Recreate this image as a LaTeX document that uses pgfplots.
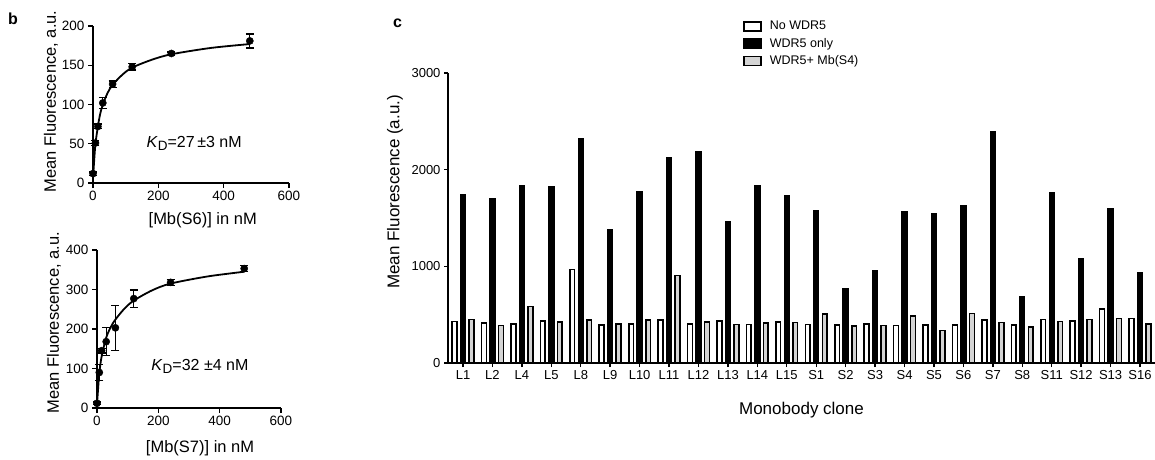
\documentclass[border=0pt]{standalone}
\usepackage{pgfplots}
\pgfplotsset{compat=1.18}
\usepackage{pgfplotstable}
\usepackage{fontspec}
\setmainfont{Liberation Sans}

% panel c: mean fluorescence per monobody clone
\pgfplotstableread{
idx clone nowdr wdr wdrmb
0  L1  429 1741 450
1  L2  415 1699 388
2  L4  401 1834 585
3  L5  432 1820 422
4  L8  969 2318 443
5  L9  394 1381 403
6  L10 401 1768 446
7  L11 446 2125 906
8  L12 405 2190 426
9  L13 436 1461 398
10 L14 398 1834 412
11 L15 422 1734 419
12 S1  398 1578 509
13 S2  394 765  381
14 S3  405 955  388
15 S4  388 1568 484
16 S5  391 1540 336
17 S6  391 1630 512
18 S7  443 2388 419
19 S8  394 680  374
20 S11 450 1765 429
21 S12 432 1080 450
22 S13 557 1592 460
23 S16 460 937  405
}\clones

\pgfplotsset{
  prism/.style={
    scale only axis, clip=false,
    axis lines=left,
    axis line style={-, line width=1.6pt},
    x axis line style={-}, y axis line style={-},
    tick align=outside, major tick length=5pt,
    major tick style={black, line width=1.4pt},
    minor tick num=0,
    tick label style={font=\fontsize{13.5}{15}\selectfont},
    label style={font=\fontsize{16.5}{19}\selectfont},
    /pgf/number format/assume math mode=true,
    /pgf/number format/1000 sep={},
  },
  fit/.style={black, line width=1.8pt, smooth, no marks},
  pts/.style={only marks, mark=*, mark size=3.6pt, black,
    error bars/.cd, y dir=both, y explicit,
    error bar style={line width=1.3pt, black},
    error mark options={rotate=90, mark size=4pt, line width=1.3pt, black}},
  boxlegend/.style={legend image code/.code={%
    \draw[##1] (0pt,-4.5pt) rectangle (17pt,4.5pt);
    \path[draw=none, fill=none] (17pt,0pt) -- (24pt,0pt);}},
  clonebar/.style={ybar, bar width=4.8pt, draw=black, line width=1.6pt, boxlegend},
}
\newcommand{\KD}{\textit{K}\raisebox{-0.35ex}{\fontsize{13.5}{15}\selectfont D}}

\begin{document}
\begin{tikzpicture}
\useasboundingbox (0,0) rectangle (1155pt,459pt);

\node[anchor=base, font=\bfseries\fontsize{16}{18}\selectfont] at (13pt,434pt) {b};
\node[anchor=base, font=\bfseries\fontsize{16}{18}\selectfont] at (397.5pt,431pt) {c};

% b, top: Mb(S6)
\begin{axis}[prism,
  at={(93pt,276pt)}, anchor=south west,
  width=196pt, height=157pt,
  xmin=0, xmax=600, ymin=0, ymax=200,
  xtick={0,200,400,600}, ytick={0,50,100,150,200},
  xlabel={[Mb(S6)] in nM},
  ylabel={Mean Fluorescence, a.u.},
  xlabel style={at={(axis description cs:0.56,-0.236)}, anchor=center},
  ylabel style={at={(axis description cs:-0.214,0.52)}, anchor=center},
]
\addplot[fit] coordinates {
  (0,5) (3,25) (7.5,50) (15,72) (22,88) (30,100) (45,115) (60,125)
  (90,138) (120,147) (180,157) (240,164) (360,172) (480,177)};
\addplot[pts] coordinates {
  (0,12) +- (0,2)
  (7.5,51) +- (0,3)
  (15,72) +- (0,3)
  (30,102) +- (0,7)
  (60,126) +- (0,4)
  (120,148) +- (0,4)
  (240,165) +- (0,2)
  (480,181) +- (0,9)};
\node[anchor=base west, font=\fontsize{16}{18}\selectfont]
  at (axis cs:153,44.6) {\KD=27\,±3 nM};
\end{axis}

% b, bottom: Mb(S7)
\begin{axis}[prism,
  at={(97pt,51pt)}, anchor=south west,
  width=184pt, height=158pt,
  xmin=0, xmax=600, ymin=0, ymax=400,
  xtick={0,200,400,600}, ytick={0,100,200,300,400},
  xlabel={[Mb(S7)] in nM},
  ylabel={Mean Fluorescence, a.u.},
  xlabel style={at={(axis description cs:0.56,-0.253)}, anchor=center},
  ylabel style={at={(axis description cs:-0.234,0.54)}, anchor=center},
]
\addplot[fit] coordinates {
  (0,10) (3,42) (7.5,88) (15,130) (30,178) (45,205) (60,224)
  (90,252) (120,272) (180,298) (240,315) (360,333) (480,345)};
\addplot[pts] coordinates {
  (0,12) +- (0,3)
  (7.5,90) +- (0,20)
  (15,145) +- (0,6)
  (30,168) +- (0,35)
  (60,203) +- (0,57)
  (120,277) +- (0,22)
  (240,318) +- (0,8)
  (480,353) +- (0,8)};
\node[anchor=base west, font=\fontsize{16}{18}\selectfont]
  at (axis cs:166,96) {\KD=32 ±4 nM};
\end{axis}

% c: clones
\begin{axis}[prism,
  at={(448pt,96pt)}, anchor=south west,
  width=707pt, height=290pt,
  xmin=-0.51, xmax=23.51, ymin=0, ymax=3000,
  ytick={0,1000,2000,3000},
  xtick=data, xticklabels from table={\clones}{clone},
  tick label style={font=\fontsize{13}{15}\selectfont},
  major tick length=4pt,
  xlabel={Monobody clone},
  ylabel={Mean Fluorescence (a.u.)},
  label style={font=\fontsize{17}{19}\selectfont},
  xlabel style={at={(axis description cs:0.5,-0.162)}, anchor=center},
  ylabel style={at={(axis description cs:-0.075,0.59)}, anchor=center},
  legend style={at={(rel axis cs:0.417,1.186)}, anchor=north west,
    draw=none, fill=none, inner sep=0pt, row sep=3pt,
    font=\fontsize{12.5}{14}\selectfont},
  legend cell align=left,
]
\addplot[clonebar, bar shift=-8.5pt, fill=white] table[x=idx, y=nowdr] {\clones};
\addplot[clonebar, bar shift=0pt, fill=black] table[x=idx, y=wdr] {\clones};
\addplot[clonebar, bar shift=8.5pt, fill=black!17] table[x=idx, y=wdrmb] {\clones};
\legend{No WDR5, WDR5 only, WDR5+ Mb(S4)}
\end{axis}
\end{tikzpicture}
\end{document}
